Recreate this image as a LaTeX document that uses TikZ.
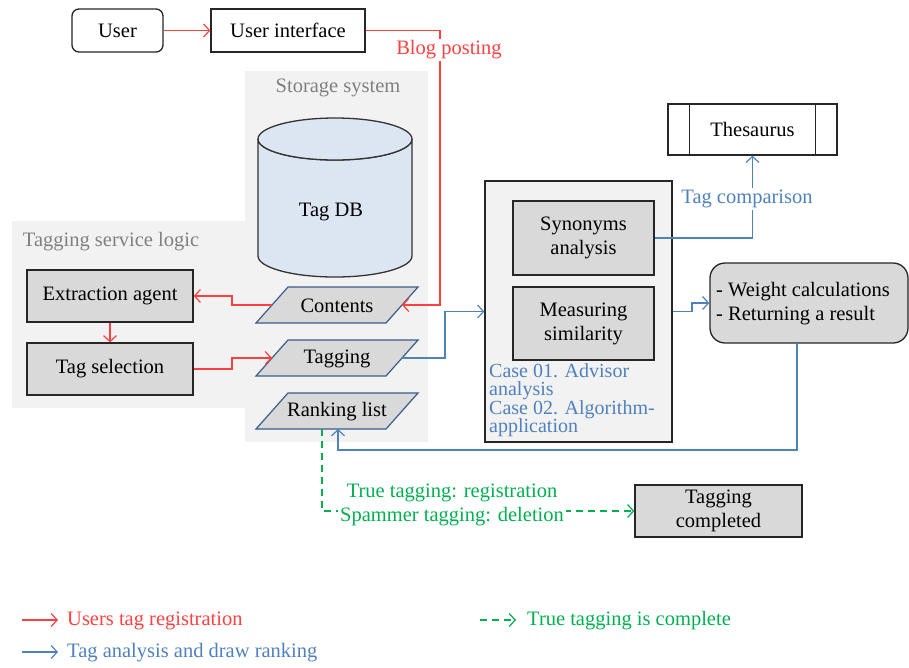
\documentclass[tikz,border=0pt]{standalone}
\usepackage{fontspec}
\setmainfont{Liberation Serif}
\usetikzlibrary{arrows.meta}
\definecolor{myred}{RGB}{255,64,64}
\definecolor{myblue}{RGB}{79,129,189}
\definecolor{mygreen}{RGB}{0,176,80}
\definecolor{boxgray}{RGB}{217,217,217}
\definecolor{areagray}{RGB}{242,242,242}
\definecolor{dbblue}{RGB}{220,230,242}
\definecolor{paraborder}{RGB}{56,93,138}
\definecolor{labelgray}{RGB}{128,128,128}
\newcommand{\drawpara}[3]{%
  \draw[parastyle] (256,#2+18) -- (288,#2-18) -- (418,#2-18) -- (386,#2+18) -- cycle;
  \node (#1) at (337,#2+1) {#3};
  \coordinate (#1L) at (272,#2);
  \coordinate (#1R) at (402,#2);}
\begin{document}
\begin{tikzpicture}[x=1pt,y=-1pt,
  every node/.style={font=\fontsize{20.5}{24}\selectfont, inner sep=0pt},
  box/.style={draw=black!85, line width=1.3pt, fill=boxgray, align=center},
  area/.style={fill=areagray, draw=none},
  arealabel/.style={text=labelgray},
  parastyle/.style={draw=paraborder, line width=1.2pt, fill=boxgray},
  conn/.style={line width=1.2pt},
  tip/.style={-{Straight Barb[length=6pt,width=13pt]}},
  redarr/.style={conn, draw=myred, tip},
  bluearr/.style={conn, draw=myblue, tip},
  greenarr/.style={conn, draw=mygreen, dashed, dash pattern=on 7pt off 5pt, tip},
  lbl/.style={fill=white, inner sep=2pt}
]
\useasboundingbox (0,0) rectangle (909,667);

% background areas
\fill[areagray] (245,71) rectangle (428,442);
\fill[areagray] (12,221) rectangle (245,408);
\node[arealabel] (storlbl) at (338,88) {Storage system};
\node[arealabel] (taglbl) at (111,242) {Tagging service logic};

% top nodes
\node[draw=black!85, line width=1.3pt, rounded corners=7pt, minimum width=91pt, minimum height=43pt] (user) at (117.5,30.5) {User};
\node[draw=black!85, line width=1.3pt, minimum width=154pt, minimum height=43pt] (ui) at (288,30.5) {User interface};

% cylinder
\filldraw[fill=dbblue, draw=black!80, line width=1.3pt] (258,139) -- (258,256) arc[start angle=180, end angle=0, x radius=77, y radius=21] -- (412,139) arc[start angle=0, end angle=180, x radius=77, y radius=21] -- cycle;
\draw[fill=dbblue, draw=black!80, line width=1.3pt] (335,139) ellipse[x radius=77, y radius=21];
\node (tagdb) at (331,212) {Tag DB};

% parallelograms
\drawpara{contents}{305}{Contents}
\drawpara{tagging}{358}{Tagging}
\drawpara{ranking}{411}{Ranking list}
\coordinate (rankB) at (338,429);
\coordinate (rankG) at (322,429);

% tagging service logic boxes
\node[box, minimum width=166pt, minimum height=52pt] (extract) at (110,296) {Extraction agent};
\node[box, minimum width=166pt, minimum height=52pt] (tagsel) at (110,369) {Tag selection};

% analysis box
\node[draw=black!85, line width=1.3pt, fill=areagray, minimum width=187pt, minimum height=261pt] (anabox) at (578.5,311.5) {};
\node[box, minimum width=141pt, minimum height=74pt] (syn) at (583.5,238) {Synonyms\\analysis};
\node[box, minimum width=141pt, minimum height=73pt] (meas) at (583.5,323.5) {Measuring\\similarity};
\node[anchor=north west, align=left, text=myblue, font=\fontsize{20}{18.6}\selectfont] (cases) at (489,363) {Case 01. Advisor\\analysis\\Case 02. Algorithm-\\application};

% thesaurus
\node[draw=black!85, line width=1.3pt, minimum width=169pt, minimum height=51pt] (thes) at (752.5,129.5) {Thesaurus};
\draw[black!85, line width=1.3pt] ([xshift=22pt]thes.north west) -- ([xshift=22pt]thes.south west);
\draw[black!85, line width=1.3pt] ([xshift=-22pt]thes.north east) -- ([xshift=-22pt]thes.south east);

% weight box
\node[draw=black!85, line width=1.3pt, fill=boxgray, rounded corners=15pt, minimum width=198pt, minimum height=80pt] (weight) at (809,303) {};
\node[anchor=west, align=left] (wtext) at (716,304) {- Weight calculations\\- Returning a result};
\coordinate (wb) at (797,343);

% tagging completed
\node[box, minimum width=167pt, minimum height=52pt] (done) at (718.5,511) {Tagging\\completed};

% red connectors
\draw[redarr] (user.east) -- (ui.west);
\draw[redarr] (ui.east) -- (440,30.5) -- (440,305) -- (contentsR);
\draw[redarr] (contentsL) -- (232,305) -- (232,296) -- (extract.east);
\draw[redarr] (extract.south) -- (tagsel.north);
\draw[redarr] (tagsel.east) -- (232,369) -- (232,358) -- (taggingL);

% blue connectors
\draw[bluearr] (taggingR) -- (445,358) |- (anabox.west);
\draw[bluearr] (syn.east) -| (thes.south);
\draw[bluearr] (anabox.east) -- (692,311.5) |- (weight.west);
\draw[bluearr] (wb) -- (797,450) -| (rankB);

% green connector
\draw[greenarr] (rankG) |- (done.west);

% labels on connectors
\node[lbl, text=myred] (blog) at (449,50) {Blog posting};
\node[lbl, text=myblue] (tagcomp) at (747,199) {Tag comparison};
\node[lbl, text=mygreen, align=center] (greenlbl) at (452,505) {True tagging: registration\\Spammer tagging: deletion};

% legend
\coordinate (l1a) at (22,620); \coordinate (l1b) at (58,620);
\coordinate (l2a) at (22,652); \coordinate (l2b) at (58,652);
\coordinate (l3a) at (480,620); \coordinate (l3b) at (516,620);
\draw[redarr] (l1a) -- (l1b);
\draw[bluearr] (l2a) -- (l2b);
\draw[greenarr] (l3a) -- (l3b);
\node[anchor=west, text=myred] (l1t) at (67,621) {Users tag registration};
\node[anchor=west, text=myblue] (l2t) at (67,653) {Tag analysis and draw ranking};
\node[anchor=west, text=mygreen] (l3t) at (527,621) {True tagging is complete};
\end{tikzpicture}
\end{document}
